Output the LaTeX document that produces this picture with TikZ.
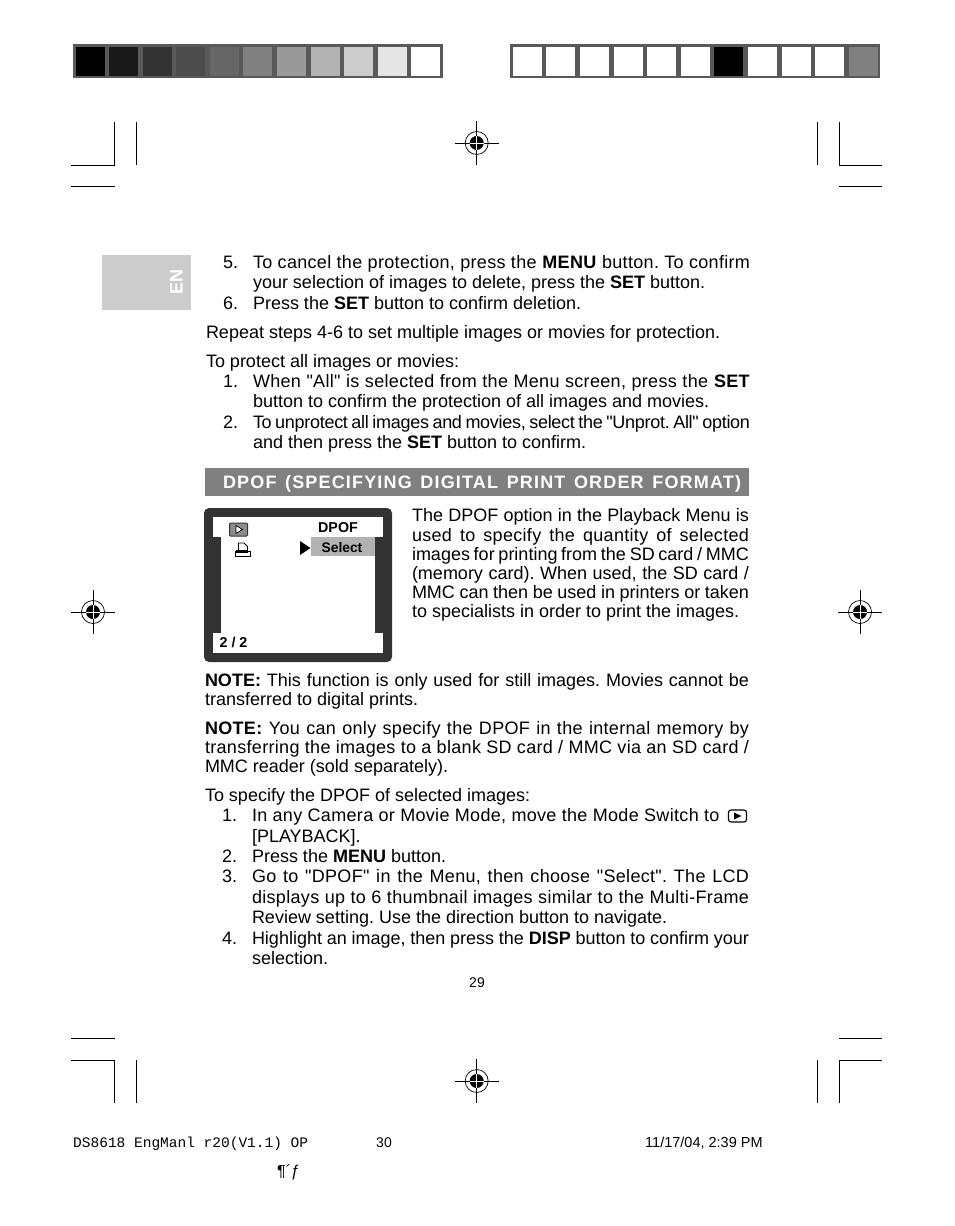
\documentclass[tikz,border=0pt]{standalone}
\usepackage{fontspec}
\setmainfont{Liberation Sans}[Ligatures=TeXOff]
\newfontfamily\tracked{Liberation Sans}[Ligatures=TeXOff,LetterSpace=1.8]
\newfontfamily\condensed{Liberation Sans}[Ligatures=TeXOff,LetterSpace=-1.6]
\newfontfamily\widehead{Liberation Sans}[Ligatures=TeXOff,LetterSpace=6.5]
\newfontfamily\footmono{Liberation Mono}[Ligatures=TeXOff]
\frenchspacing
\tikzset{
    body/.style={anchor=base west,inner sep=0pt,outer sep=0pt,font=\fontsize{18}{20}\selectfont},
    small/.style={inner sep=0pt,font=\fontsize{14}{16}\selectfont},
    lcdtext/.style={inner sep=0pt,font=\fontsize{14.3}{16}\selectfont\bfseries},
    cropline/.style={black,line width=0.9pt},
    barframe/.style={fill=black!65},
    regmark/.pic={
        \draw[line width=0.7pt] (-22,0) -- (22,0) (0,-22) -- (0,22);
        \draw[line width=0.7pt] (0,0) circle (11.5pt);
        \fill (0,0) circle (7pt);
        \draw[white,line width=0.8pt] (-7,0) -- (7,0) (0,-7) -- (0,7);
    }
}
\newcommand{\jline}[2]{\makebox[#1pt][s]{#2}}
\newcommand{\tightwords}{\spaceskip=1.5pt plus 4pt\relax}
\begin{document}
\begin{tikzpicture}[x=1pt,y=-1pt]
    \useasboundingbox (0,0) rectangle (954,1226);
    \fill[white] (0,0) rectangle (954,1226);
    %% colour bars
    \fill[barframe] (73,44) rectangle (443,78);
    \foreach \xs/\g in {76/100,109/90,143/80,176/70,210/60,243/50,277/40,311/30,344/20,378/10,411/0}
        \fill[black!\g] (\xs,47) rectangle ++(29,29);
    \fill[barframe] (510,44) rectangle (880,78);
    \foreach \xs/\g in {513/0,546/0,580/0,614/0,647/0,681/0,714/100,748/0,782/0,815/0,849/50}
        \fill[black!\g] (\xs,47) rectangle ++(29,29);
    %% crop marks
    \draw[cropline] (71,165) -- (114.5,165) -- (114.5,122);
    \draw[cropline] (136,122) -- (136,165);
    \draw[cropline] (71,186) -- (115,186);
    \draw[cropline] (817,122) -- (817,165);
    \draw[cropline] (839.5,122) -- (839.5,165) -- (882,165);
    \draw[cropline] (839,186) -- (882,186);
    \draw[cropline] (71,1038) -- (115,1038);
    \draw[cropline] (71,1060) -- (114.5,1060) -- (114.5,1103);
    \draw[cropline] (136,1060) -- (136,1103);
    \draw[cropline] (839,1038) -- (882,1038);
    \draw[cropline] (817,1060) -- (817,1103);
    \draw[cropline] (839.5,1103) -- (839.5,1060) -- (882,1060);
    %% registration marks
    \pic at (476.7,143) {regmark};
    \pic at (476.7,1081) {regmark};
    \pic at (93,612) {regmark};
    \pic at (860,612) {regmark};
    %% language tab
    \fill[black!20] (102,255) rectangle (191,310);
    \node[rotate=90,white,inner sep=0pt,font=\fontsize{18}{20}\selectfont\bfseries] (tab) at (176.5,282) {EN};
    %% steps 5 and 6
    \node[body] (n5) at (223,268) {5.};
    \node[body] (l1) at (253,268) {\jline{497}{\tracked To cancel the protection, press the \textbf{MENU} button. To confirm}};
    \node[body] (l2) at (253,288) {your selection of images to delete, press the \textbf{SET} button.};
    \node[body] (n6) at (223,309) {6.};
    \node[body] (l3) at (253,309) {Press the \textbf{SET} button to confirm deletion.};
    \node[body] (l4) at (206,338) {Repeat steps 4-6 to set multiple images or movies for protection.};
    %% protect all
    \node[body] (l5) at (206,367) {To protect all images or movies:};
    \node[body] (m1) at (223,387) {1.};
    \node[body] (l6) at (253,387) {\jline{497}{\tracked When "All" is selected from the Menu screen, press the \textbf{SET}}};
    \node[body] (l7) at (253,407) {button to confirm the protection of all images and movies.};
    \node[body] (m2) at (223,428) {2.};
    \node[body] (l8) at (253,428) {\jline{497}{\condensed\tightwords To unprotect all images and movies, select the "Unprot. All" option}};
    \node[body] (l9) at (253,448) {and then press the \textbf{SET} button to confirm.};
    %% heading
    \fill[black!50] (205,468) rectangle (749,496);
    \node[body,white,font=\fontsize{18}{20}\selectfont\bfseries] (head) at (223,488) {\jline{518}{\widehead DPOF (SPECIFYING DIGITAL PRINT ORDER FORMAT)}};
    %% lcd screen
    \fill[black!80,rounded corners=5pt] (204,508) rectangle (392,662);
    \fill[white] (213,517) rectangle (383,653);
    \fill[black!80] (213,537) rectangle (221,633);
    \fill[black!80] (375,537) rectangle (383,633);
    \fill[black!30] (311,537) rectangle (375,556);
    \fill (300,541) -- (310.5,548) -- (300,555) -- cycle;
    \node[lcdtext] (dpof) at (338,528) {DPOF};
    \node[lcdtext,font=\fontsize{13.8}{16}\selectfont\bfseries] (sel) at (342,547.5) {Select};
    \node[lcdtext] (page) at (233.5,642.5) {2 / 2};
    %% playback icon
    \draw[black!80,fill=black!45,line width=1pt,rounded corners=1pt] (229.5,523) rectangle (247.5,536);
    \draw[black,fill=white,line width=0.7pt] (236,525.5) -- (242.5,529.5) -- (236,533.5) -- cycle;
    %% printer icon
    \draw[line width=0.9pt,fill=white] (238.5,552) -- (238.5,543) -- (244,543) -- (247.5,546.5) -- (247.5,552);
    \draw[line width=0.9pt] (235.5,556.5) -- (235.5,551.5) -- (250.5,551.5) -- (250.5,556.5) -- cycle;
    \fill (235.5,550) rectangle (247.5,553);
    %% side text
    \node[body] (r1) at (412,521) {\jline{337}{The DPOF option in the Playback Menu is}};
    \node[body] (r2) at (412,541) {\jline{337}{\tracked used to specify the quantity of selected}};
    \node[body] (r3) at (412,560) {\jline{337}{\tightwords images for printing from the SD card / MMC}};
    \node[body] (r4) at (412,579) {\jline{337}{(memory card). When used, the SD card /}};
    \node[body] (r5) at (412,598) {\jline{337}{MMC can then be used in printers or taken}};
    \node[body] (r6) at (412,617) {to specialists in order to print the images.};
    %% notes
    \node[body] (a1) at (205,686) {\jline{544}{\textbf{NOTE:} This function is only used for still images. Movies cannot be}};
    \node[body] (a2) at (205,705) {transferred to digital prints.};
    \node[body] (b1) at (205,734) {\jline{544}{\tracked \textbf{NOTE:} You can only specify the DPOF in the internal memory by}};
    \node[body] (b2) at (205,753) {\jline{544}{\tracked transferring the images to a blank SD card / MMC via an SD card /}};
    \node[body] (b3) at (205,772) {MMC reader (sold separately).};
    %% selected images
    \node[body] (c0) at (205,801) {To specify the DPOF of selected images:};
    \node[body] (p1) at (222,821) {1.};
    \node[body] (c1) at (252,821) {\tracked In any Camera or Movie Mode, move the Mode Switch to};
    \node[body] (c2) at (252,842) {[PLAYBACK].};
    \node[body] (p2) at (222,862) {2.};
    \node[body] (c3) at (252,862) {Press the \textbf{MENU} button.};
    \node[body] (p3) at (222,882) {3.};
    \node[body] (c4) at (252,882) {\jline{497}{\tracked Go to "DPOF" in the Menu, then choose "Select". The LCD}};
    \node[body] (c5) at (252,903) {\jline{497}{\tracked displays up to 6 thumbnail images similar to the Multi-Frame}};
    \node[body] (c6) at (252,923) {Review setting. Use the direction button to navigate.};
    \node[body] (p4) at (222,944) {4.};
    \node[body] (c7) at (252,944) {\jline{497}{Highlight an image, then press the \textbf{DISP} button to confirm your}};
    \node[body] (c8) at (252,964) {selection.};
    %% inline playback icon
    \draw[line width=1.1pt,rounded corners=2.5pt] (728.5,810) rectangle (746.5,822);
    \fill (734,812.5) -- (741.5,816) -- (734,819.5) -- cycle;
    %% page numbers and slug
    \node[small] (folio) at (477,983) {29};
    \node[anchor=base west,inner sep=0pt,font=\footmono\fontsize{14.5}{16}\selectfont] (slug) at (73,1147.5) {DS8618 EngManl r20(V1.1) OP};
    \node[small] (sheet) at (384,1143) {30};
    \node[small,anchor=base west,font=\fontsize{14.5}{16}\selectfont] (stamp) at (645,1147.5) {11/17/04, 2:39 PM};
    \node[small,anchor=base west,font=\fontsize{16}{16}\selectfont] (junk) at (277,1176) {¶´ƒ};
\end{tikzpicture}
\end{document}
